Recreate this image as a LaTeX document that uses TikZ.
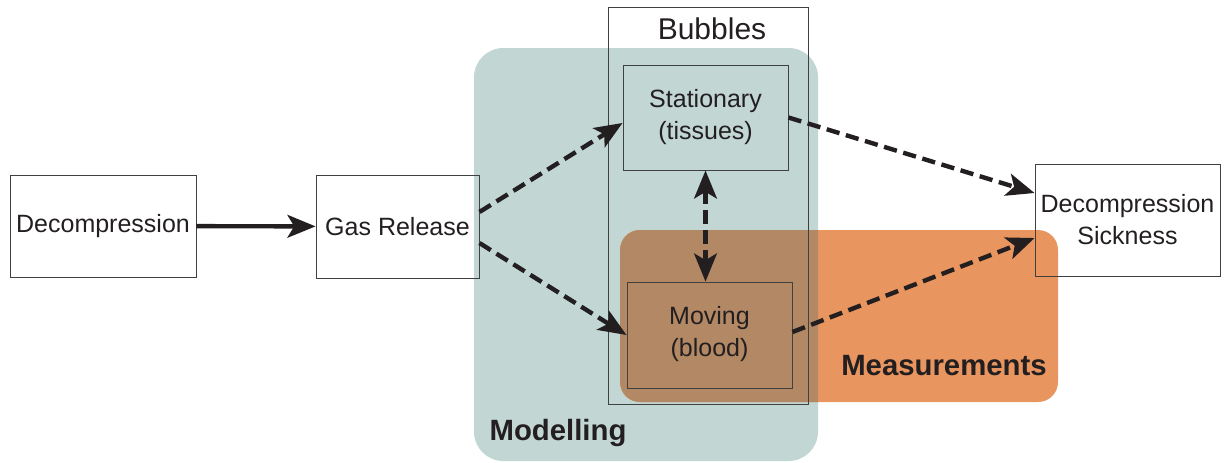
\documentclass[tikz,border=0pt]{standalone}
\usepackage{fontspec}
\setmainfont{Liberation Sans}
\usetikzlibrary{arrows.meta}
\definecolor{teal0}{HTML}{C2D6D4}
\definecolor{orng}{HTML}{E8955F}
\definecolor{ovl}{HTML}{B28865}
\definecolor{ink}{HTML}{231F20}
\begin{document}
\begin{tikzpicture}[x=0.75pt,y=-0.75pt,
  box/.style={draw=black!75, line width=0.7pt, rectangle, align=center, text=ink,
    font=\fontsize{18.75}{24}\selectfont, inner sep=0pt},
  conn/.style={line width=3.3pt, draw=ink, -{Stealth[length=21pt,width=17pt,inset=5pt]}},
  dashconn/.style={conn, dash pattern=on 10pt off 5pt},
  regionlabel/.style={font=\fontsize{22}{26}\selectfont\bfseries, text=ink}]
\useasboundingbox (0,0) rectangle (1224,462);
% regions
\fill[teal0, rounded corners=22pt] (474,48) rectangle (818,461);
\fill[orng, rounded corners=15pt] (620,230) rectangle (1058,402);
\begin{scope}
  \clip[rounded corners=22pt] (474,48) rectangle (818,461);
  \fill[ovl, rounded corners=15pt] (620,230) rectangle (1058,402);
\end{scope}
% nodes
\node[box, minimum width=139.5pt, minimum height=76.5pt] (dec) at (103,226) {Decompression};
\node[box, minimum width=122.25pt, minimum height=77.25pt] (gas) at (397.5,226.5) {Gas Release};
\node[box, minimum width=150pt, minimum height=297.75pt] (bub) at (708,205.5) {};
\node[text=ink, font=\fontsize{22.5}{26}\selectfont] (bubt) at (712,29) {Bubbles};
\node[box, minimum width=123.75pt, minimum height=78.75pt] (stat) at (705.5,117.5) {Stationary\\(tissues)};
\node[box, minimum width=123.75pt, minimum height=79.5pt, text depth=5pt] (mov) at (709.5,335) {Moving\\(blood)};
\node[box, minimum width=138.75pt, minimum height=84pt] (ds) at (1127.5,220) {Decompression\\Sickness};
\node[regionlabel] (mod) at (558,433) {Modelling};
\node[regionlabel] (meas) at (944,366) {Measurements};
% connectors
\draw[conn] (dec) -- (gas);
\draw[dashconn] ([yshift=10.9pt]gas.east) -- ([yshift=-4.1pt]stat.west);
\draw[dashconn] ([yshift=-12.4pt]gas.east) -- (mov.west);
\draw[dashconn] (stat.east) -- ([yshift=20.25pt]ds.west);
\draw[dashconn] ([yshift=2.25pt]mov.east) -- ([yshift=-13.5pt]ds.west);
\draw[dashconn, {Stealth[length=21pt,width=17pt,inset=5pt]}-{Stealth[length=21pt,width=17pt,inset=5pt]}] (stat.south) -- (stat.south |- mov.north);
\end{tikzpicture}
\end{document}
